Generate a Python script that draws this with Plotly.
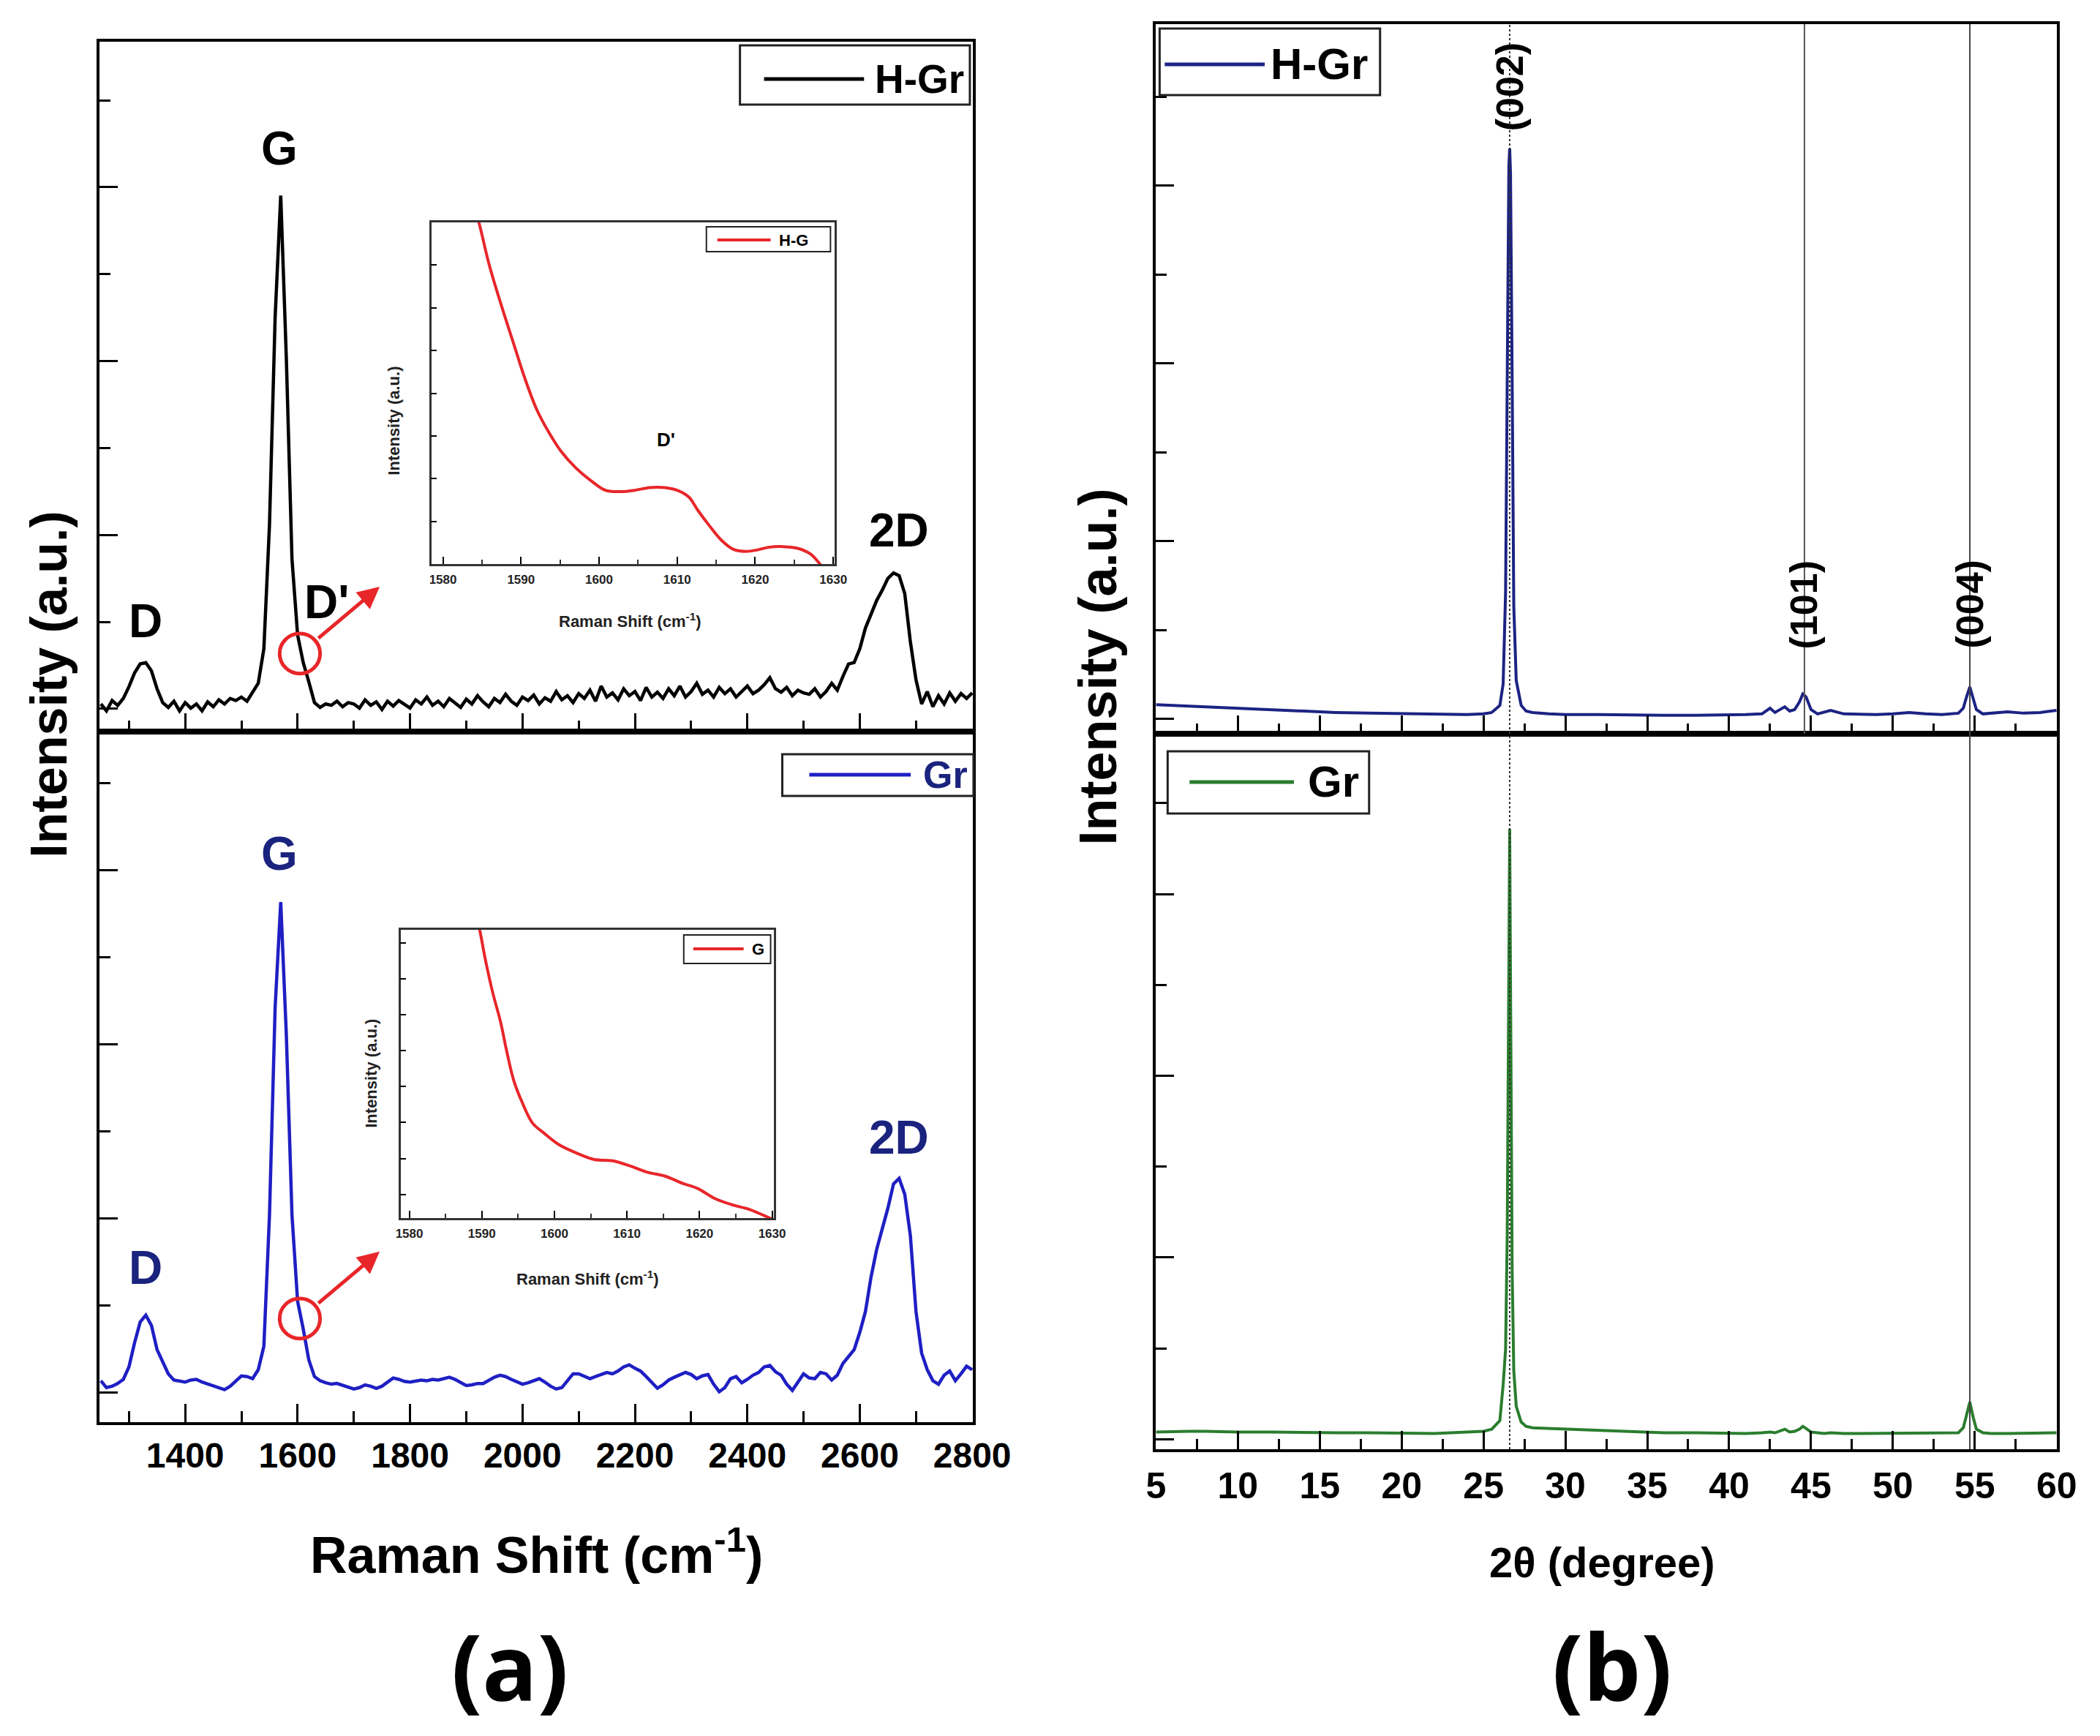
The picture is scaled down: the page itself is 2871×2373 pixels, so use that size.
import plotly.graph_objects as go

# 字体
SANS = "Liberation Sans, Arial, sans-serif"
HEAVY = "Open Sans, Liberation Sans, sans-serif"

# 颜色
RAMAN_BLUE = "#1f1fc4"
NAVY = "#1a237e"
XRD_NAVY = "#1c2383"
XRD_GREEN = "#2a7d2e"
RED = "#e8262a"

# ---------------- (a) Raman ----------------
raman_shift = list(range(1250, 2801, 10))  # cm-1

raman_hgr = [
    # 1250-1340
    0.040, 0.030, 0.045, 0.038, 0.048, 0.065, 0.085, 0.098, 0.100, 0.088,
    # 1350-1440
    0.062, 0.042, 0.035, 0.044, 0.030, 0.042, 0.034, 0.040, 0.030, 0.043,
    # 1450-1540
    0.036, 0.046, 0.040, 0.048, 0.045, 0.050, 0.044, 0.056, 0.070, 0.120,
    # 1550-1640
    0.300, 0.600, 0.777, 0.540, 0.250, 0.140, 0.100, 0.072, 0.042, 0.035,
    # 1650-1740
    0.040, 0.038, 0.044, 0.036, 0.042, 0.040, 0.034, 0.046, 0.038, 0.043,
    # 1750-1840
    0.032, 0.044, 0.037, 0.045, 0.040, 0.034, 0.046, 0.040, 0.050, 0.038,
    # 1850-1940
    0.044, 0.036, 0.048, 0.041, 0.035, 0.047, 0.040, 0.052, 0.043, 0.036,
    # 1950-2040
    0.048, 0.042, 0.054, 0.044, 0.038, 0.050, 0.045, 0.053, 0.040, 0.049,
    # 2050-2140
    0.044, 0.058, 0.046, 0.052, 0.042, 0.055, 0.048, 0.060, 0.044, 0.066,
    # 2150-2240
    0.050, 0.056, 0.046, 0.062, 0.052, 0.058, 0.045, 0.064, 0.050, 0.057,
    # 2250-2340
    0.048, 0.062, 0.052, 0.066, 0.050, 0.058, 0.070, 0.054, 0.060, 0.050,
    # 2350-2440
    0.064, 0.055, 0.062, 0.050, 0.058, 0.066, 0.055, 0.060, 0.068, 0.078,
    # 2450-2540
    0.062, 0.057, 0.064, 0.052, 0.060, 0.056, 0.054, 0.062, 0.050, 0.058,
    # 2550-2640
    0.070, 0.060, 0.080, 0.098, 0.100, 0.120, 0.150, 0.170, 0.190, 0.205,
    # 2650-2740
    0.222, 0.230, 0.226, 0.200, 0.130, 0.075, 0.040, 0.058, 0.036, 0.052,
    # 2750-2800
    0.040, 0.056, 0.044, 0.055, 0.048, 0.056,
]

raman_gr = [
    # 1250-1340
    0.060, 0.050, 0.052, 0.056, 0.062, 0.080, 0.115, 0.145, 0.155, 0.140,
    # 1350-1440
    0.105, 0.086, 0.070, 0.061, 0.060, 0.058, 0.061, 0.062, 0.058, 0.055,
    # 1450-1540
    0.052, 0.049, 0.047, 0.052, 0.060, 0.067, 0.066, 0.063, 0.076, 0.110,
    # 1550-1640
    0.300, 0.600, 0.753, 0.560, 0.300, 0.175, 0.135, 0.090, 0.066, 0.060,
    # 1650-1740
    0.057, 0.055, 0.056, 0.053, 0.050, 0.048, 0.050, 0.054, 0.052, 0.049,
    # 1750-1840
    0.052, 0.058, 0.064, 0.062, 0.059, 0.058, 0.060, 0.061, 0.060, 0.062,
    # 1850-1940
    0.061, 0.063, 0.065, 0.062, 0.058, 0.053, 0.054, 0.056, 0.056, 0.061,
    # 1950-2040
    0.065, 0.068, 0.066, 0.062, 0.058, 0.055, 0.057, 0.060, 0.063, 0.058,
    # 2050-2140
    0.052, 0.048, 0.050, 0.060, 0.070, 0.070, 0.066, 0.063, 0.066, 0.069,
    # 2150-2240
    0.072, 0.070, 0.074, 0.080, 0.083, 0.078, 0.074, 0.066, 0.057, 0.049,
    # 2250-2340
    0.054, 0.061, 0.065, 0.068, 0.072, 0.069, 0.063, 0.067, 0.069, 0.055,
    # 2350-2440
    0.044, 0.050, 0.063, 0.066, 0.057, 0.062, 0.068, 0.072, 0.080, 0.082,
    # 2450-2540
    0.073, 0.068, 0.055, 0.046, 0.058, 0.070, 0.064, 0.063, 0.072, 0.070,
    # 2550-2640
    0.061, 0.068, 0.085, 0.095, 0.105, 0.130, 0.160, 0.210, 0.250, 0.280,
    # 2650-2740
    0.310, 0.345, 0.353, 0.330, 0.270, 0.160, 0.100, 0.076, 0.060, 0.055,
    # 2750-2800
    0.068, 0.074, 0.060, 0.070, 0.081, 0.076,
]

# 插图（D' 区域放大）
inset_hgr_x = [1583.5, 1584.6, 1585.9, 1587.4, 1589.0, 1590.5, 1592.0, 1593.5, 1595.1, 1597.0,
               1598.9, 1600.8, 1602.7, 1604.6, 1606.5, 1608.4, 1610.0, 1611.5, 1612.6, 1614.2,
               1615.7, 1617.2, 1618.7, 1620.2, 1621.7, 1623.6, 1625.6, 1627.1, 1628.3, 1629.0]
inset_hgr_y = [1.08, 1.0, 0.878, 0.763, 0.649, 0.543, 0.453, 0.388, 0.331, 0.282,
               0.245, 0.216, 0.212, 0.216, 0.224, 0.224, 0.216, 0.196, 0.159, 0.110,
               0.069, 0.043, 0.037, 0.041, 0.049, 0.051, 0.045, 0.029, 0.0, -0.02]

inset_gr_x = [1589.2, 1589.7, 1590.5, 1591.5, 1592.6, 1593.4, 1594.4, 1595.6, 1597.0, 1598.6,
              1600.6, 1603.1, 1605.5, 1607.9, 1610.4, 1612.8, 1615.2, 1617.7, 1619.7, 1622.1,
              1624.5, 1627.0, 1629.4, 1630.2]
inset_gr_y = [1.05, 1.0, 0.895, 0.782, 0.678, 0.582, 0.477, 0.399, 0.329, 0.294,
              0.255, 0.225, 0.203, 0.199, 0.181, 0.159, 0.146, 0.120, 0.103, 0.068,
              0.046, 0.029, 0.003, -0.005]

# ---------------- (b) XRD ----------------
two_theta = [5, 6, 7, 8, 9, 10, 12, 14, 16, 18, 20, 22, 24, 25, 25.5,
             26.0, 26.2, 26.35, 26.45, 26.55, 26.6, 26.65, 26.75, 26.85,
             27.0, 27.3, 27.6, 28, 29, 30, 32, 34, 36, 38, 40, 41, 42,
             42.5, 42.8, 43.1, 43.4, 43.7, 44.0, 44.3, 44.5, 44.7, 45.0, 45.4, 45.8, 46.2,
             47, 48, 49, 50, 51, 52, 53, 54,
             54.3, 54.5, 54.7, 54.9, 55.1, 55.5, 56, 57, 58, 59, 60]

xrd_hgr = [0.041, 0.040, 0.038, 0.037, 0.036, 0.035, 0.033, 0.031, 0.030, 0.029, 0.028, 0.028, 0.027, 0.028, 0.030,
           0.040, 0.070, 0.200, 0.550, 0.800, 0.825, 0.790, 0.500, 0.180,
           0.075, 0.040, 0.032, 0.030, 0.028, 0.027, 0.027, 0.026, 0.026, 0.026, 0.026, 0.027, 0.028,
           0.036, 0.030, 0.034, 0.038, 0.032, 0.034, 0.045, 0.056, 0.052, 0.034, 0.028, 0.030, 0.033,
           0.028, 0.027, 0.027, 0.028, 0.030, 0.028, 0.027, 0.029,
           0.036, 0.052, 0.066, 0.050, 0.034, 0.028, 0.029, 0.031, 0.029, 0.030, 0.033]

xrd_gr = [0.024, 0.025, 0.025, 0.025, 0.024, 0.024, 0.024, 0.023, 0.023, 0.023, 0.022, 0.022, 0.024, 0.025, 0.028,
          0.040, 0.090, 0.140, 0.300, 0.700, 0.867, 0.650, 0.250, 0.110,
          0.060, 0.038, 0.032, 0.030, 0.029, 0.028, 0.027, 0.024, 0.023, 0.023, 0.022, 0.022, 0.023,
          0.024, 0.023, 0.026, 0.028, 0.024, 0.025, 0.028, 0.032, 0.029, 0.024, 0.023, 0.022, 0.023,
          0.022, 0.022, 0.022, 0.022, 0.023, 0.022, 0.022, 0.023,
          0.030, 0.050, 0.066, 0.045, 0.028, 0.023, 0.022, 0.022, 0.022, 0.022, 0.023]

hkl_labels = ["(002)", "(101)", "(004)"]
hkl_pos = [26.6, 44.6, 54.7]


# 参考图像素 -> paper 坐标（截图横向约压缩 2%，整体略有偏移，这里补偿）
def px(x):
    return (x - 19.2) / 0.9788 / 2871


def py(y):
    return 1 - (y - 6) / 2373


fig = go.Figure()

fig.add_trace(go.Scatter(x=raman_shift, y=raman_hgr, name="H-Gr", mode="lines",
                         line=dict(color="black", width=4.5), xaxis="x", yaxis="y"))
fig.add_trace(go.Scatter(x=raman_shift, y=raman_gr, name="Gr", mode="lines",
                         line=dict(color=RAMAN_BLUE, width=4.5), xaxis="x2", yaxis="y2"))
fig.add_trace(go.Scatter(x=two_theta, y=xrd_hgr, name="H-Gr", mode="lines",
                         line=dict(color=XRD_NAVY, width=4), xaxis="x3", yaxis="y3"))
fig.add_trace(go.Scatter(x=two_theta, y=xrd_gr, name="Gr", mode="lines",
                         line=dict(color=XRD_GREEN, width=4), xaxis="x4", yaxis="y4"))
fig.add_trace(go.Scatter(x=inset_hgr_x, y=inset_hgr_y, name="H-G", mode="lines", line_shape="spline",
                         line=dict(color=RED, width=4), xaxis="x5", yaxis="y5"))
fig.add_trace(go.Scatter(x=inset_gr_x, y=inset_gr_y, name="G", mode="lines", line_shape="spline",
                         line=dict(color=RED, width=4), xaxis="x6", yaxis="y6"))
fig.update_traces(showlegend=False)


def frame_axis(domain, anchor, rng, lw=4, **kw):
    d = dict(domain=domain, anchor=anchor, range=rng, showline=True, mirror=True,
             linecolor="black", linewidth=lw, showgrid=False, zeroline=False,
             ticks="inside", tickcolor="black", tickwidth=3)
    d.update(kw)
    return d


def minor(t0, dt, ln, col="black", w=3):
    return dict(tick0=t0, dtick=dt, ticklen=ln, ticks="inside", tickcolor=col, tickwidth=w)


raman_tickfont = dict(family=SANS, size=48, color="black", weight="bold")
xrd_tickfont = dict(family=SANS, size=50, color="black", weight="bold")
inset_tickfont = dict(family=SANS, size=17, color="#222", weight="bold")

RAMAN_X = [px(133), px(1330)]
XRD_X = [px(1581), px(2815)]

fig.update_layout(
    width=2871, height=2373, autosize=False,
    margin=dict(l=0, r=0, t=0, b=0),
    paper_bgcolor="white", plot_bgcolor="rgba(0,0,0,0)",
    # Raman 上
    xaxis=frame_axis(RAMAN_X, "y", [1247, 2801], tick0=1400, dtick=200, ticklen=25,
                     showticklabels=False, minor=minor(1300, 100, 15)),
    yaxis=frame_axis([py(998), py(55)], "x", [0, 1], tick0=0.033, dtick=0.252, ticklen=25,
                     showticklabels=False, minor=minor(0.033, 0.126, 15)),
    # Raman 下
    xaxis2=frame_axis(RAMAN_X, "y2", [1247, 2801], tick0=1400, dtick=200, ticklen=25,
                      tickfont=raman_tickfont, ticklabelstandoff=0, minor=minor(1300, 100, 15)),
    yaxis2=frame_axis([py(1942), py(998)], "x2", [0, 1], tick0=0.043, dtick=0.252, ticklen=25,
                      showticklabels=False, minor=minor(0.043, 0.126, 15)),
    # XRD 上
    xaxis3=frame_axis(XRD_X, "y3", [5, 60], tick0=5, dtick=5, ticklen=25,
                      showticklabels=False, minor=minor(2.5, 2.5, 14)),
    yaxis3=frame_axis([py(1001), py(31)], "x3", [0, 1], tick0=0.021, dtick=0.2505, ticklen=25,
                      showticklabels=False, minor=minor(0.021, 0.12525, 15)),
    # XRD 下
    xaxis4=frame_axis(XRD_X, "y4", [5, 60], tick0=5, dtick=5, ticklen=25,
                      tickfont=xrd_tickfont, ticklabelstandoff=3, minor=minor(2.5, 2.5, 14)),
    yaxis4=frame_axis([py(1979), py(1001)], "x4", [0, 1], tick0=0.014, dtick=0.254, ticklen=25,
                      showticklabels=False, minor=minor(0.014, 0.127, 15)),
    # 插图 H-Gr
    xaxis5=frame_axis([px(588), px(1141)], "y5", [1578.5, 1630.2], lw=2.5, tick0=1580, dtick=10,
                      ticklen=10, tickwidth=2, linecolor="#333", tickfont=inset_tickfont,
                      ticklabelstandoff=4, minor=minor(1585, 10, 6, "#333", 2)),
    yaxis5=frame_axis([py(769), py(302)], "x5", [0, 1], lw=2.5, tick0=0, dtick=0.125, ticklen=8,
                      tickwidth=2, linecolor="#333", showticklabels=False),
    # 插图 Gr
    xaxis6=frame_axis([px(546), px(1057)], "y6", [1578.8, 1630.2], lw=2.5, tick0=1580, dtick=10,
                      ticklen=10, tickwidth=2, linecolor="#333", tickfont=inset_tickfont,
                      ticklabelstandoff=4, minor=minor(1585, 10, 6, "#333", 2)),
    yaxis6=frame_axis([py(1663), py(1269)], "x6", [0, 1], lw=2.5, tick0=0.082, dtick=0.1247, ticklen=8,
                      tickwidth=2, linecolor="#333", showticklabels=False),
)

shapes = []
annotations = []


def paper_text(x, y, text, font, angle=0, xanchor="center"):
    return dict(xref="paper", yref="paper", x=px(x), y=py(y), text=text, textangle=angle, showarrow=False,
                xanchor=xanchor, yanchor="middle", font=font)


# 红圈 + 箭头（D' 位置）
for xa, ya, cy in [("x", "y", 0.113), ("x2", "y2", 0.150)]:
    shapes.append(dict(type="circle", xref=xa, yref=ya, x0=1568, x1=1640, y0=cy - 0.029, y1=cy + 0.029,
                       line=dict(color=RED, width=5)))
    annotations.append(dict(xref=xa, yref=ya, axref=xa, ayref=ya, x=1746, y=cy + 0.097, ax=1635, ay=cy + 0.021,
                            text="", showarrow=True, arrowhead=2, arrowsize=1.2, arrowwidth=5, arrowcolor=RED))

# 峰标记 (a)
peak_font_top = dict(family=SANS, size=64, color="black", weight="bold")
peak_font_bot = dict(family=SANS, size=64, color=NAVY, weight="bold")
for txt, x_, y_ in [("G", 1568, 0.845), ("D", 1329, 0.160), ("D'", 1652, 0.188), ("2D", 2670, 0.292)]:
    annotations.append(dict(xref="x", yref="y", x=x_, y=y_, text=txt, showarrow=False, font=peak_font_top))
for txt, x_, y_ in [("G", 1568, 0.823), ("D", 1329, 0.223), ("2D", 2670, 0.412)]:
    annotations.append(dict(xref="x2", yref="y2", x=x_, y=y_, text=txt, showarrow=False, font=peak_font_bot))
annotations.append(dict(xref="x5", yref="y5", x=1608.6, y=0.365, text="D'", showarrow=False,
                        font=dict(family=SANS, size=26, color="black", weight="bold")))

# 晶面标记 (b)
for lab, pos, yy in zip(hkl_labels, hkl_pos, [0.912, 0.182, 0.182]):
    annotations.append(dict(xref="x3", yref="y3", x=pos, y=yy, text=lab, textangle=-90, showarrow=False,
                            font=dict(family=SANS, size=52, color="black", weight="bold")))

# 竖直参考线
shapes.append(dict(type="line", xref="x3", yref="paper", x0=26.6, x1=26.6, y0=py(1979), y1=py(31),
                   line=dict(color="#333", width=2, dash="dot")))
shapes.append(dict(type="line", xref="x3", yref="paper", x0=44.6, x1=44.6, y0=py(1001), y1=py(31),
                   line=dict(color="#555", width=2)))
shapes.append(dict(type="line", xref="x3", yref="paper", x0=54.7, x1=54.7, y0=py(1979), y1=py(31),
                   line=dict(color="#444", width=2)))

# 图例框（手动，参考图像素）
legends = [
    # (x0, x1, y0, y1, line x0, line x1, line y, text x, text, color, font size, text color, border)
    (1011, 1326, 60, 141, 1044, 1181, 106, 1194, "H-Gr", "black", 55, "black", 3),
    (1069, 1331, 1029, 1086, 1106, 1245, 1057, 1260, "Gr", RAMAN_BLUE, 52, NAVY, 3),
    (1586, 1888, 37, 128, 1593, 1730, 86, 1736, "H-Gr", XRD_NAVY, 60, "black", 3),
    (1597, 1873, 1025, 1110, 1627, 1770, 1067, 1787, "Gr", XRD_GREEN, 60, "black", 3),
    (965, 1135, 308, 342, 980, 1053, 326, 1062, "H-G", RED, 22, "black", 2),
    (934, 1053, 1276, 1315, 947, 1016, 1295, 1025, "G", RED, 22, "black", 2),
]
for x0, x1, y0, y1, lx0, lx1, ly, tx, txt, col, fs, tcol, bw in legends:
    shapes.append(dict(type="rect", xref="paper", yref="paper", x0=px(x0), x1=px(x1), y0=py(y1), y1=py(y0),
                       line=dict(color="#222", width=bw), fillcolor="white"))
    shapes.append(dict(type="line", xref="paper", yref="paper", x0=px(lx0), x1=px(lx1), y0=py(ly), y1=py(ly),
                       line=dict(color=col, width=5 if fs > 30 else 4)))
    annotations.append(paper_text(tx, ly, txt, dict(family=SANS, size=fs, color=tcol, weight="bold"),
                                  xanchor="left"))

# 坐标轴标题
title_font = dict(family=SANS, size=70, color="black", weight="bold")
annotations += [
    paper_text(64, 934, "Intensity (a.u.)", title_font, angle=-90),
    paper_text(1501, 910, "Intensity (a.u.)", dict(family=SANS, size=72, color="black", weight="bold"),
               angle=-90),
    paper_text(732, 2119, "Raman Shift (cm<sup>-1</sup>)", title_font),
    paper_text(2192, 2133, "2θ (degree)", dict(family=SANS, size=58, color="black", weight="bold")),
    paper_text(696, 2274, "(a)", dict(family=HEAVY, size=125, color="black", weight="bold")),
    paper_text(2206, 2274, "(b)", dict(family=HEAVY, size=125, color="black", weight="bold")),
]

# 插图标题
inset_title_font = dict(family=SANS, size=22, color="#222", weight="bold")
annotations += [
    paper_text(861, 846, "Raman Shift (cm<sup>-1</sup>)", inset_title_font),
    paper_text(536, 573, "Intensity (a.u.)", inset_title_font, angle=-90),
    paper_text(802, 1745, "Raman Shift (cm<sup>-1</sup>)", inset_title_font),
    paper_text(505, 1465, "Intensity (a.u.)", inset_title_font, angle=-90),
]

fig.update_layout(shapes=shapes, annotations=annotations)

fig.write_html("out.html")
